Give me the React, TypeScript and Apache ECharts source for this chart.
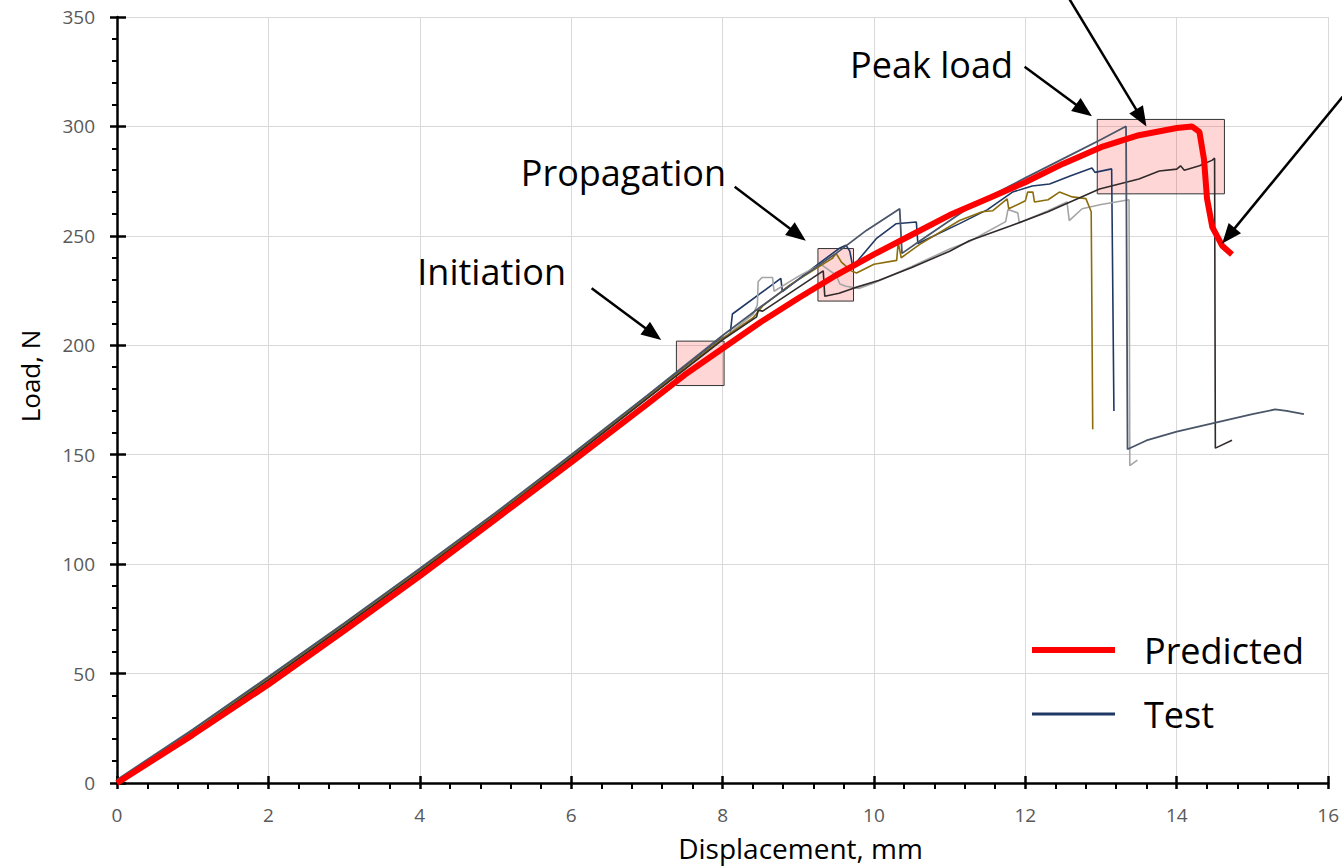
import React, { useEffect, useRef } from "react";
import * as echarts from "echarts";

type P = [number, number];

// Predicted curve (Load N vs Displacement mm)
const predicted: P[] = [
  [0, 0], [1, 22], [2, 45], [3, 69.5], [4, 94.5], [5, 120.5], [6, 146.5], [7, 173], [7.5, 186.5],
  [8, 198.5], [8.5, 210.5], [9, 221.5], [9.5, 232], [10, 241.5], [10.5, 250.5], [11, 259.5],
  [11.5, 267], [12, 274.5], [12.5, 283], [13, 290.5], [13.5, 296], [14, 299.3], [14.2, 300],
  [14.3, 297.5], [14.36, 285], [14.4, 267], [14.47, 254], [14.6, 245.5], [14.73, 241.5],
];

// Test curves
const testBlue: P[] = [
  [0, 1], [1, 24], [2, 48], [3, 72.5], [4, 97.5], [5, 123], [6, 149.5], [7, 176.5], [8, 203.5],
  [8.1, 205], [8.13, 214.3], [8.77, 230.6], [8.79, 224.5], [9.2, 235.5], [9.55, 244.5], [9.63, 245.7],
  [9.68, 243], [9.72, 236], [10.03, 248.7], [10.29, 255.5], [10.56, 256.3], [10.58, 246.5],
  [11.13, 255.6], [11.5, 262], [11.83, 270], [12.09, 272.8], [12.32, 273.7], [12.6, 277.5],
  [12.88, 281], [12.92, 279], [13.14, 280.6], [13.17, 170],
];
const testSlate: P[] = [
  [0, 1.5], [1, 24.5], [2, 48.5], [3, 73], [4, 98], [5, 123.5], [6, 150], [7, 177], [8, 204.5],
  [8.5, 217.5], [9, 230], [9.5, 242], [9.9, 252.5], [10.34, 262.4], [10.37, 242], [10.6, 247.5],
  [11.3, 264], [12, 276.5], [12.6, 287], [13, 294], [13.3, 299.5], [13.33, 300], [13.35, 152.5],
  [13.6, 156.5], [14, 160.5], [14.5, 164.5], [15, 168.5], [15.3, 170.7], [15.45, 170], [15.68, 168.5],
];
const testGold: P[] = [
  [0, 0.5], [1, 23.5], [2, 47.5], [3, 72], [4, 97], [5, 122.5], [6, 149], [7, 176], [8, 203],
  [8.4, 212.5], [8.46, 215], [8.53, 218], [8.75, 223.8], [8.88, 227.4], [9.45, 239.7], [9.5, 242],
  [9.57, 238], [9.7, 234], [9.77, 233], [10.0, 237], [10.3, 238.8], [10.32, 247], [10.36, 240],
  [10.6, 246], [11.13, 257], [11.43, 261], [11.57, 261.5], [11.76, 266.9], [11.78, 262.4],
  [12.0, 266], [12.03, 270], [12.1, 270], [12.12, 265.5], [12.3, 266.5], [12.45, 270],
  [12.62, 267.8], [12.8, 267], [12.87, 261], [12.89, 161.6],
];
const testGray: P[] = [
  [0, 1], [1, 23.5], [2, 47.5], [3, 72], [4, 97], [5, 122.5], [6, 149], [7, 176], [8, 203],
  [8.4, 214], [8.46, 218.5], [8.47, 229], [8.52, 231], [8.66, 231], [8.68, 224.7], [9.0, 231.5],
  [9.3, 237], [9.5, 232], [9.55, 228], [9.63, 227], [9.8, 226], [10.0, 228.5], [10.5, 236],
  [11.0, 244], [11.26, 247.4], [11.74, 256.5], [11.77, 262], [11.9, 260.5], [11.92, 256],
  [12.3, 261.5], [12.55, 265.5], [12.58, 257], [12.75, 262.4], [13.0, 264.3], [13.37, 266.5],
  [13.38, 145], [13.48, 147.5],
];
const testBlack: P[] = [
  [0, 0.5], [1, 23], [2, 47], [3, 71.5], [4, 96.5], [5, 122], [6, 148.5], [7, 175.5], [8, 202.5],
  [8.45, 213], [8.47, 216], [8.53, 215.6], [9.33, 234], [9.35, 222.4], [9.54, 223.8], [9.72, 226],
  [10.07, 229.7], [10.5, 235.5], [11.0, 243], [11.26, 247.8], [11.8, 254.5], [12.3, 261],
  [12.98, 271.4], [13.5, 276], [13.77, 279.6], [14.0, 280.5], [14.05, 282], [14.1, 280],
  [14.3, 282], [14.47, 284.6], [14.5, 285.5], [14.51, 153], [14.73, 156.6],
];

// Highlight boxes [[x0,y0],[x1,y1]] in data units
const boxes: [P, P][] = [
  [[7.39, 181.6], [8.02, 201.9]],
  [[9.26, 220.2], [9.73, 244.2]],
  [[12.95, 269.2], [14.63, 303.2]],
];

// Annotation texts (centre, data units)
const labels: { text: string; at: P }[] = [
  { text: "Initiation", at: [4.95, 233.5] },
  { text: "Propagation", at: [6.69, 279] },
  { text: "Peak load", at: [10.76, 328.5] },
];

// Arrows [from, to] in data units
const arrows: [P, P][] = [
  [[6.27, 226.1], [7.19, 202.4]],
  [[8.16, 272.4], [9.1, 247.8]],
  [[11.99, 327.3], [12.88, 304.6]],
  [[12.55, 360], [13.6, 300.0]],
  [[16.25, 316], [14.6, 246.5]],
];

const FONT = "'Open Sans', sans-serif";

export default function App() {
  const ref = useRef<HTMLDivElement>(null);
  useEffect(() => {
    const chart = echarts.init(ref.current!, null, { renderer: "svg" });
    const axisLineStyle = { color: "#000", width: 2.5 };
    const grid = { color: "#d9d9d9", width: 1 };
    const testSeries = (name: string, data: P[], color: string, width = 1.6) => ({
      type: "line",
      name,
      data,
      showSymbol: false,
      symbol: "none",
      lineStyle: { color, width },
      itemStyle: { color },
      z: 2,
    });
    const option: any = {
      animation: false,
      grid: { left: 117, right: 13, top: 17, bottom: 79 },
      legend: {
        orient: "vertical",
        left: 1029,
        top: 628,
        padding: 0,
        itemWidth: 83,
        itemHeight: 14,
        itemGap: 20,
        textStyle: { fontFamily: FONT, fontSize: 36, color: "#000", lineHeight: 44, padding: [0, 0, 0, 24] },
        data: [
          { name: "Predicted", lineStyle: { width: 6 }, itemStyle: { opacity: 0 } },
          { name: "Test", lineStyle: { width: 3 }, itemStyle: { opacity: 0 } },
        ],
      },
      xAxis: [
        {
          type: "value", min: 0, max: 16, interval: 2, position: "bottom",
          name: "Displacement, mm", nameLocation: "middle", nameGap: 51,
          nameTextStyle: { fontFamily: FONT, fontSize: 28, color: "#000", padding: [0, 0, 0, 156] },
          axisLine: { show: true, onZero: false, lineStyle: axisLineStyle },
          axisTick: { show: true, inside: false, length: 6, lineStyle: axisLineStyle },
          minorTick: { show: true, splitNumber: 5, length: 6, lineStyle: { color: "#000", width: 2 } },
          axisLabel: { fontFamily: FONT, fontSize: 19, color: "#595959", margin: 22 },
          splitLine: { show: true, lineStyle: grid },
        },
        {
          type: "value", min: 0, max: 16, interval: 2, position: "bottom",
          axisLine: { show: false, onZero: false },
          axisTick: { show: true, inside: true, length: 7, lineStyle: axisLineStyle },
          axisLabel: { show: false },
          splitLine: { show: false },
        },
      ],
      yAxis: [
        {
          type: "value", min: 0, max: 350, interval: 50, position: "left",
          name: "Load, N", nameLocation: "middle", nameGap: 74,
          nameTextStyle: { fontFamily: FONT, fontSize: 26, color: "#000", padding: [0, 0, 0, 48] },
          axisLine: { show: true, onZero: false, lineStyle: axisLineStyle },
          axisTick: { show: true, inside: false, length: 7, lineStyle: axisLineStyle },
          minorTick: { show: true, splitNumber: 5, length: 5, lineStyle: { color: "#000", width: 2 } },
          axisLabel: { fontFamily: FONT, fontSize: 19, color: "#595959", margin: 22 },
          splitLine: { show: true, lineStyle: grid },
        },
        {
          type: "value", min: 0, max: 350, interval: 50, position: "left",
          axisLine: { show: false, onZero: false },
          axisTick: { show: true, inside: true, length: 9, lineStyle: axisLineStyle },
          axisLabel: { show: false },
          splitLine: { show: false },
        },
      ],
      series: [
        testSeries("Test", testBlue, "#203864"),
        testSeries("Test", testGray, "#a5a5a5"),
        testSeries("Test", testGold, "#8c6d0c"),
        testSeries("Test", testBlack, "#302a2a"),
        testSeries("Test", testSlate, "#4a5568", 1.8),
        {
          type: "line",
          name: "Predicted",
          data: predicted,
          showSymbol: false,
          symbol: "none",
          lineStyle: { color: "#ff0000", width: 6 },
          itemStyle: { color: "#ff0000" },
          z: 3,
        },
        {
          type: "line",
          name: "boxes",
          data: [],
          z: 4,
          markArea: {
            silent: true,
            itemStyle: { color: "rgba(255,0,0,0.16)", borderColor: "#333", borderWidth: 1 },
            data: boxes.map(([a, b]) => [{ coord: a }, { coord: b }]),
          },
        },
      ],
    };
    chart.setOption(option);

    const px = (p: P) => chart.convertToPixel({ xAxisIndex: 0, yAxisIndex: 0 } as any, p) as number[];
    const g: any[] = [];
    arrows.forEach(([a, b]) => {
      const p0 = px(a);
      const p1 = px(b);
      const dx = p1[0] - p0[0];
      const dy = p1[1] - p0[1];
      const len = Math.hypot(dx, dy);
      const ux = dx / len;
      const uy = dy / len;
      const hl = 20;
      const hw = 8;
      const bx = p1[0] - ux * hl;
      const by = p1[1] - uy * hl;
      g.push({
        type: "line", z: 100,
        shape: { x1: p0[0], y1: p0[1], x2: bx + ux * 2, y2: by + uy * 2 },
        style: { stroke: "#000", lineWidth: 2.5 },
      });
      g.push({
        type: "polygon", z: 100,
        shape: { points: [[p1[0], p1[1]], [bx - uy * hw, by + ux * hw], [bx + uy * hw, by - ux * hw]] },
        style: { fill: "#000" },
      });
    });
    labels.forEach((l) => {
      const p = px(l.at);
      g.push({
        type: "text", z: 100, x: p[0], y: p[1],
        style: { text: l.text, fontFamily: FONT, fontSize: 36, fill: "#000", align: "center", verticalAlign: "middle" },
      });
    });
    chart.setOption({ graphic: g });

    return () => chart.dispose();
  }, []);

  return (
    <div
      ref={ref}
      style={{ position: "fixed", left: 0, top: 0, width: 1342, height: 867, background: "#fff" }}
    />
  );
}
